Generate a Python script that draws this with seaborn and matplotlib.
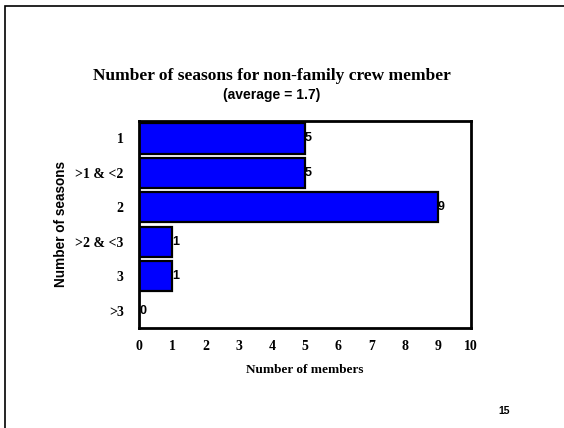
import matplotlib
matplotlib.use("Agg")
import matplotlib.pyplot as plt
import seaborn as sns
import pandas as pd
from matplotlib.patches import Rectangle

seasons = ["1", ">1 & <2", "2", ">2 & <3", "3", ">3"]
members = [5, 5, 9, 1, 1, 0]
x_ticks = [0, 1, 2, 3, 4, 5, 6, 7, 8, 9, 10]

sns.set_style("white")
plt.rcParams["text.color"] = "black"
plt.rcParams["axes.labelcolor"] = "black"
plt.rcParams["xtick.color"] = "black"
plt.rcParams["ytick.color"] = "black"
serif = ["Liberation Serif", "DejaVu Serif"]
sans = ["Liberation Sans", "DejaVu Sans"]

df = pd.DataFrame({"seasons": seasons, "members": members})

fig = plt.figure(figsize=(5.64, 4.28), dpi=100)
ax = fig.add_axes([0.2465, 0.234, 0.5885, 0.483])

sns.barplot(data=df, x="members", y="seasons", orient="h", color="#0000FF",
            saturation=1, width=0.88, edgecolor="black", linewidth=1.6, ax=ax)

for i, v in enumerate(members):
    ax.text(v, i, str(v), va="center", ha="left", fontsize=9,
            fontweight="bold", family=sans, color="black")

ax.set_xlim(0, 10)
ax.set_ylim(5.5, -0.5)
ax.set_xticks(x_ticks)
ax.set_xticklabels([str(t) for t in x_ticks], family=serif, fontweight="bold", fontsize=10)
ax.set_yticks(range(len(seasons)))
ax.set_yticklabels(seasons, family=serif, fontweight="bold", fontsize=10)
ax.tick_params(axis="both", length=0)
ax.tick_params(axis="x", pad=9)
ax.tick_params(axis="y", pad=11)
for s in ax.spines.values():
    s.set_visible(True)
    s.set_color("black")
    s.set_linewidth(2)

ax.set_xlabel("Number of members", family=serif, fontweight="bold", fontsize=9.5, labelpad=8)
ax.set_ylabel("Number of seasons", family=sans, fontweight="bold", fontsize=9.8, labelpad=5)

fig.text(0.4823, 0.822, "Number of seasons for non-family crew member",
         ha="center", va="center", family=serif, fontweight="bold", fontsize=12.5)
fig.text(0.4823, 0.778, "(average = 1.7)", ha="center", va="center",
         family=sans, fontweight="bold", fontsize=10)
fig.text(0.883, 0.04, "15", ha="left", va="center", family=sans,
         fontweight="bold", fontsize=7.5)

fig.patches.append(Rectangle((5 / 564, -0.1), 1.2, 1 - 6 / 428 + 0.1,
                             transform=fig.transFigure, fill=False,
                             edgecolor="black", linewidth=1.2))

fig.savefig("out.png", dpi=100)
